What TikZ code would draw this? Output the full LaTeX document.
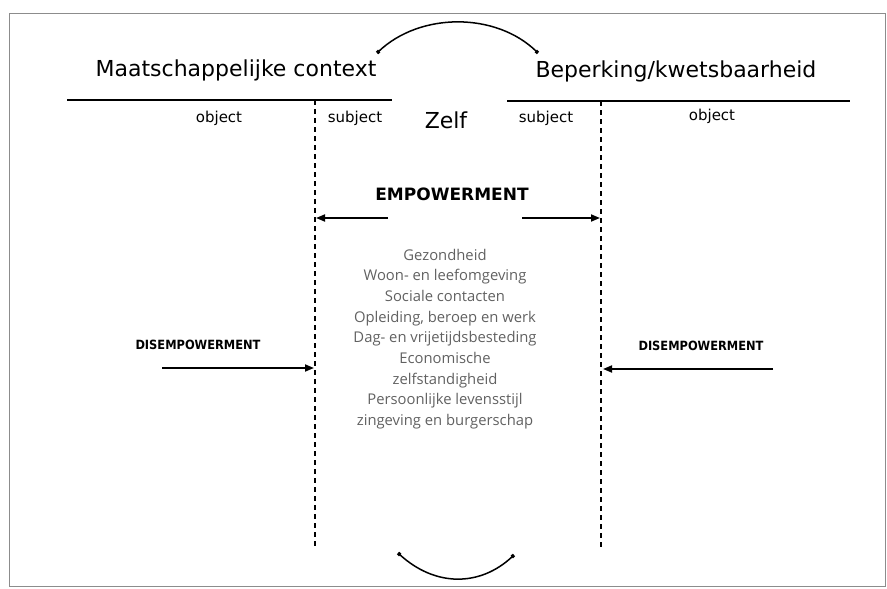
\documentclass[tikz,border=0pt]{standalone}
\usepackage{fontspec}
\setmainfont{DejaVu Sans}
\newfontfamily\listfont{Open Sans}
\newfontfamily\condfont{DejaVu Sans Condensed}
\usetikzlibrary{arrows.meta}
\begin{document}
\begin{tikzpicture}[x=1pt,y=-1pt,
  title/.style={font=\fontsize{22}{24}\selectfont, inner sep=0pt},
  side/.style={font=\fontsize{15}{17}\selectfont, inner sep=0pt},
  rule/.style={line width=1.6pt},
  divider/.style={line width=1.2pt, dash pattern=on 5pt off 4pt},
  push/.style={line width=1.7pt, -{Triangle[length=9pt,width=7pt]}},
  swing/.style={line width=1.5pt, {Square[length=3pt,width=3.5pt]}-{Square[length=3pt,width=3.5pt]}},
  dis/.style={font=\condfont\bfseries\fontsize{12.7}{14}\selectfont, inner sep=0pt}
]
\useasboundingbox (0,0) rectangle (887,589);
% frame
\draw[black!45, line width=0.9pt] (9,13) rectangle (885,586);

% titles
\node[title] (mc) at (236,70) {Maatschappelijke context};
\node[title] (bk) at (676,71) {Beperking/kwetsbaarheid};

% top swing arc
\coordinate (ta) at (377,53);
\coordinate (tb) at (538,53);
\draw[swing] (ta) .. controls (420,12) and (496,12) .. (tb);

% horizontal rules
\coordinate (l1) at (67,100);
\coordinate (l2) at (392,100);
\coordinate (r1) at (507,101);
\coordinate (r2) at (850,101);
\draw[rule] (l1) -- (l2);
\draw[rule] (r1) -- (r2);

% dashed dividers
\coordinate (dl1) at (315,100);
\coordinate (dl2) at (315,548);
\coordinate (dr1) at (601,101);
\coordinate (dr2) at (601,548);
\draw[divider] (dl1) -- (dl2);
\draw[divider] (dr1) -- (dr2);

% labels under rules
\node[side] (ol) at (219,118) {object};
\node[side] (sl) at (355,118) {subject};
\node[title] (zelf) at (446,120) {Zelf};
\node[side] (sr) at (546,118) {subject};
\node[side] (or) at (712,116) {object};

% empowerment
\node[font=\bfseries\fontsize{17}{19}\selectfont, inner sep=0pt] (emp) at (452,194) {EMPOWERMENT};
\coordinate (ea1) at (388,218);
\coordinate (ea2) at (316,218);
\coordinate (eb1) at (522,218);
\coordinate (eb2) at (600,218);
\draw[push] (ea1) -- (ea2);
\draw[push] (eb1) -- (eb2);

% life domains
\node[font=\listfont\fontsize{14.8}{20.7}\selectfont, text=black!62, align=center, inner sep=0pt] (list) at (445,339)
 {Gezondheid\\Woon- en leefomgeving\\Sociale contacten\\Opleiding, beroep en werk\\Dag- en vrijetijdsbesteding\\Economische\\zelfstandigheid\\Persoonlijke levensstijl\\zingeving en burgerschap};

% disempowerment
\node[dis] (disl) at (198,345) {DISEMPOWERMENT};
\node[dis] (disr) at (701,346) {DISEMPOWERMENT};
\coordinate (da1) at (162,368);
\coordinate (da2) at (314,368);
\coordinate (db1) at (773,369);
\coordinate (db2) at (603,369);
\draw[push] (da1) -- (da2);
\draw[push] (db1) -- (db2);

% bottom swing arc
\coordinate (ba) at (398,553);
\coordinate (bb) at (514,555);
\draw[swing] (ba) .. controls (435,587) and (480,587) .. (bb);
\end{tikzpicture}
\end{document}
